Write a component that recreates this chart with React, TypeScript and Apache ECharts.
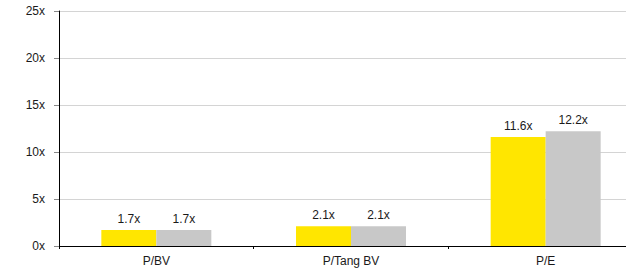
import React, { useEffect, useRef } from "react";
import * as echarts from "echarts";

const categories = ["P/BV", "P/Tang BV", "P/E"];
const seriesA = [1.7, 2.1, 11.6];
const seriesB = [1.7, 2.1, 12.2];
const yMin = 0;
const yMax = 25;
const yInterval = 5;

export default function App() {
  const ref = useRef<HTMLDivElement>(null);
  useEffect(() => {
    if (!ref.current) return;
    const chart = echarts.init(ref.current, null, { renderer: "svg" });
    const font = "'Liberation Sans', Arial, sans-serif";
    const label = {
      show: true,
      position: "top" as const,
      formatter: (p: any) => p.value.toFixed(1) + "x",
      fontFamily: font,
      fontSize: 12,
      color: "#1a1a1a",
      distance: 5,
    };
    chart.setOption({
      animation: false,
      grid: { left: 59, right: 17, top: 11, bottom: 30, containLabel: false },
      xAxis: {
        type: "category",
        data: categories,
        axisLine: { lineStyle: { color: "#000", width: 1 } },
        axisTick: { show: true, length: 3, lineStyle: { color: "#000" } },
        axisLabel: { fontFamily: font, fontSize: 12, color: "#1a1a1a", margin: 9 },
      },
      yAxis: {
        type: "value",
        min: yMin,
        max: yMax,
        interval: yInterval,
        axisLine: { show: true, lineStyle: { color: "#000", width: 1 } },
        axisTick: { show: true, length: 5, lineStyle: { color: "#888" } },
        axisLabel: {
          fontFamily: font,
          fontSize: 12,
          color: "#1a1a1a",
          margin: 14,
          formatter: (v: number) => v + "x",
        },
        splitLine: { show: true, lineStyle: { color: "#d4d4d4", width: 1 } },
      },
      series: [
        {
          type: "bar",
          data: seriesA,
          barWidth: 55,
          barGap: "0%",
          itemStyle: { color: "#FFE600" },
          label,
        },
        {
          type: "bar",
          data: seriesB,
          barWidth: 55,
          barGap: "0%",
          itemStyle: { color: "#C8C8C8" },
          label,
        },
      ],
    });
    return () => chart.dispose();
  }, []);
  return (
    <div style={{ position: "absolute", left: 0, top: 0, width: 626, height: 276, overflow: "hidden" }}>
      <div ref={ref} style={{ width: 660, height: 276 }} />
    </div>
  );
}
